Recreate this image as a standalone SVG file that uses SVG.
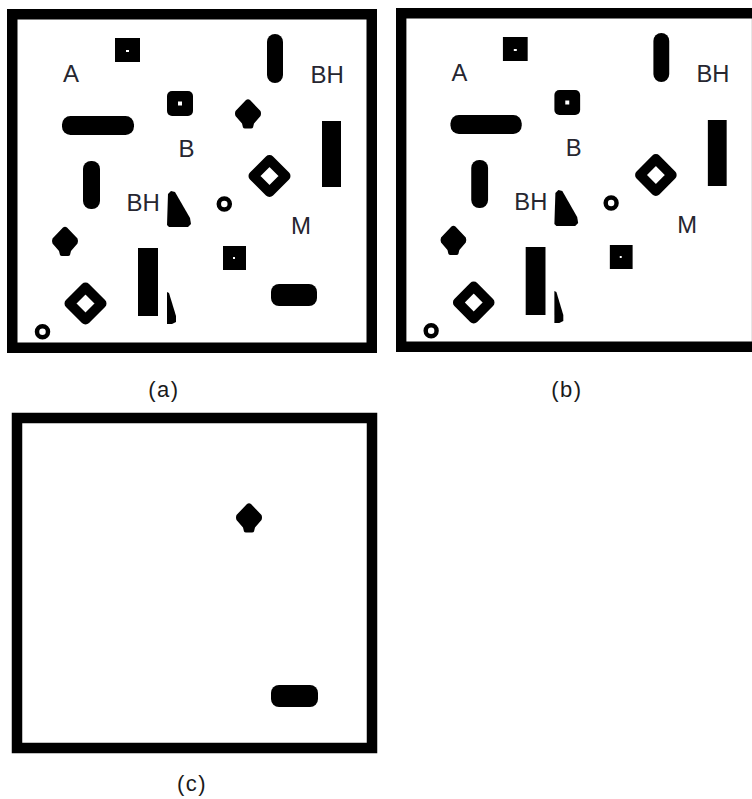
<svg xmlns="http://www.w3.org/2000/svg" xmlns:xlink="http://www.w3.org/1999/xlink" width="752" height="799" viewBox="0 0 752 799">
<style>
.frame{fill:none;stroke:#000;stroke-width:10.5}
.blk{fill:#000}
.dot{fill:#fff}
.ring{fill:none;stroke:#000;stroke-width:10;stroke-linejoin:round}
.circ{fill:none;stroke:#000;stroke-width:4.5}
.lbl{font-family:"Liberation Sans",Arial,sans-serif;font-size:24px;fill:#262630}
.cap{font-family:"Liberation Sans",Arial,sans-serif;font-size:22px;fill:#1a1a1a;text-anchor:middle;letter-spacing:1.5px}
</style>
<defs>
<path id="spade" d="M-2,-13.5 Q0,-15 2,-13.5 L12.5,-2.5 Q13.5,0 12.5,2.5 L6,10 L5,14 Q4.5,15 3,15 L-3,15 Q-4.5,15 -5,14 L-6,10 L-12.5,2.5 Q-13.5,0 -12.5,-2.5 Z"/>
<path id="ringd" d="M0,-16 L16,0 L0,16 L-16,0 Z"/>
<g id="scene">
  <rect class="frame" x="12.25" y="14.25" width="359.5" height="333.5"/>
  <g id="sq1"><rect class="blk" x="115" y="38" width="25" height="24"/><rect class="dot" x="126" y="50" width="3" height="2"/></g>
  <g id="oct"><rect class="blk" x="167" y="91" width="26" height="25" rx="5"/><rect class="dot" x="178" y="101.5" width="4" height="4"/></g>
  <rect id="hcap" class="blk" x="62" y="116" width="72" height="19" rx="8.5"/>
  <rect id="vcap1" class="blk" x="83" y="161" width="17" height="48" rx="8"/>
  <rect id="vcap2" class="blk" x="267" y="34" width="16" height="49" rx="8"/>
  <rect id="vrect1" class="blk" x="322" y="121" width="19" height="66"/>
  <use id="ring1" class="ring" xlink:href="#ringd" href="#ringd" transform="translate(269.5,176)"/>
  <use id="ring2" class="ring" xlink:href="#ringd" href="#ringd" transform="translate(85.5,303.5)"/>
  <path id="tri1" class="blk" d="M168,194 L171,191 L175,192 L190,218 L191,224 L188,227 L169,227 L167,225 Z"/>
  <path id="tri2" class="blk" d="M167,292 L169,293 L176,316 L176,322 L172,324 L167,324 Z"/>
  <use id="sp2" class="blk" xlink:href="#spade" href="#spade" transform="translate(65,241)"/>
  <rect id="vrect2" class="blk" x="138" y="248" width="20" height="68"/>
  <g id="sq2"><rect class="blk" x="223" y="246" width="23" height="24"/><rect class="dot" x="233" y="257" width="2" height="2"/></g>
  <circle id="c1" class="circ" cx="224.3" cy="204" r="5.5"/>
  <circle id="c2" class="circ" cx="42.5" cy="331.7" r="5.5"/>
  <text class="lbl" x="63" y="82">A</text>
  <text class="lbl" x="310.5" y="83">BH</text>
  <text class="lbl" x="178.5" y="157">B</text>
  <text class="lbl" x="126.5" y="211">BH</text>
  <text class="lbl" x="291" y="234">M</text>
</g>
</defs>
<g id="panel-a">
  <use xlink:href="#scene" href="#scene"/>
  <use id="a-spade" class="blk" xlink:href="#spade" href="#spade" transform="translate(248,113.5)"/>
  <rect id="a-cap" class="blk" x="271" y="284" width="46" height="22" rx="8"/>
</g>
<g id="panel-b" transform="translate(396,8) scale(0.99,1) translate(-7,-9)">
  <use xlink:href="#scene" href="#scene"/>
</g>
<g id="panel-c">
  <rect class="frame" x="17" y="418" width="355" height="330"/>
  <use id="c-spade" class="blk" xlink:href="#spade" href="#spade" transform="translate(249,517.5)"/>
  <rect id="c-cap" class="blk" x="271" y="685" width="47" height="22" rx="8"/>
</g>
<g id="captions">
  <text class="cap" x="164" y="397">(a)</text>
  <text class="cap" x="567" y="397">(b)</text>
  <text class="cap" x="192" y="791">(c)</text>
</g>
</svg>
